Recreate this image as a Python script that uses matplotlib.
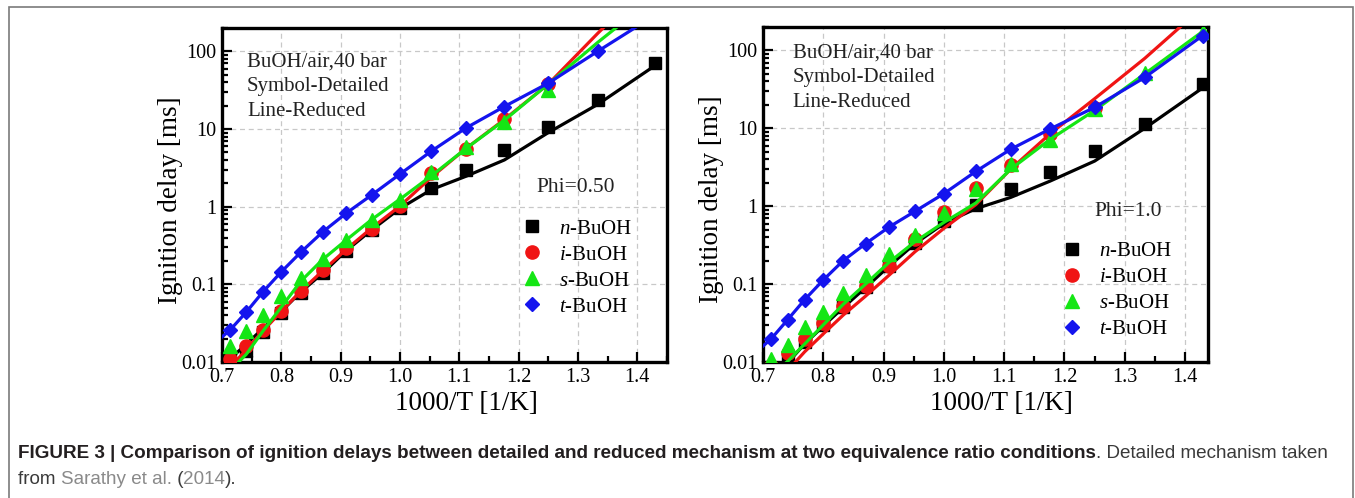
import matplotlib
matplotlib.use("Agg")
import matplotlib.pyplot as plt
from matplotlib.patches import Rectangle
from matplotlib.ticker import MultipleLocator, FixedLocator, FuncFormatter, LogLocator, NullFormatter

plt.rcParams['font.family'] = ['Liberation Serif', 'DejaVu Serif']
plt.rcParams['mathtext.fontset'] = 'custom'
plt.rcParams['mathtext.rm'] = 'Liberation Serif'
plt.rcParams['mathtext.it'] = 'Liberation Serif:italic'

# 1000/T of the detailed-mechanism points, T = 1400 ... 700 K
inv_t = [0.714, 0.741, 0.769, 0.800, 0.833, 0.870, 0.909, 0.952,
         1.000, 1.053, 1.111, 1.176, 1.250, 1.333, 1.429]
# x of the reduced-mechanism curves (one extra point at the left edge)
line_x = [0.700] + inv_t

# ---- Phi = 0.50 ----
p05_n_sym = [0.011, 0.014, 0.024, 0.043, 0.077, 0.14, 0.27, 0.50, 0.95, 1.75, 3.0, 5.4, 10.5, 24, 71]
p05_i_sym = [0.011, 0.016, 0.026, 0.046, 0.083, 0.155, 0.29, 0.52, 1.02, 2.7, 5.6, 13.5, 38]
p05_s_sym = [0.016, 0.025, 0.040, 0.070, 0.12, 0.21, 0.37, 0.68, 1.22, 2.8, 5.9, 12.5, 32]
p05_t_sym = [0.026, 0.044, 0.080, 0.145, 0.26, 0.475, 0.82, 1.41, 2.63, 5.2, 10.3, 19.5, 39, 100]

p05_n_line = [0.0095, 0.011, 0.017, 0.027, 0.045, 0.08, 0.14, 0.27, 0.50, 0.95, 1.66, 2.46, 4.0, 9.0, 20.7, 65]
p05_i_line = [0.0065, 0.0085, 0.0145, 0.025, 0.045, 0.082, 0.15, 0.28, 0.53, 1.02, 2.4, 5.6, 13.3, 38, 170, 900]
p05_s_line = [0.006, 0.0078, 0.0126, 0.025, 0.051, 0.11, 0.21, 0.37, 0.68, 1.25, 2.5, 5.6, 13, 38, 130, 500]
p05_t_line = [0.021, 0.026, 0.044, 0.080, 0.145, 0.26, 0.475, 0.82, 1.41, 2.63, 5.2, 10.3, 19.5, 39, 100, 290]

# ---- Phi = 1.0 ----
p10_n_sym = [0.008, 0.0116, 0.018, 0.030, 0.051, 0.093, 0.17, 0.34, 0.64, 1.05, 1.64, 2.75, 5.1, 11.5, 37]
p10_i_sym = [0.009, 0.013, 0.020, 0.032, 0.052, 0.095, 0.17, 0.38, 0.85, 1.7, 3.4, 8.5, 18.5]
p10_s_sym = [0.011, 0.0166, 0.028, 0.044, 0.076, 0.13, 0.245, 0.43, 0.82, 1.64, 3.45, 7.0, 17.7, 52, 170]
p10_t_sym = [0.020, 0.035, 0.063, 0.113, 0.20, 0.33, 0.54, 0.86, 1.45, 2.8, 5.4, 9.8, 18.6, 45, 155]

p10_n_line = [0.005, 0.0065, 0.0098, 0.017, 0.029, 0.05, 0.09, 0.17, 0.33, 0.60, 0.93, 1.3, 2.1, 3.8, 10, 33]
p10_i_line = [0.004, 0.0052, 0.0078, 0.0135, 0.023, 0.04, 0.07, 0.13, 0.26, 0.52, 1.05, 3.0, 8.5, 24, 79, 360]
p10_s_line = [0.005, 0.0068, 0.0102, 0.017, 0.030, 0.055, 0.10, 0.19, 0.35, 0.62, 1.1, 3.0, 7.2, 17, 50, 175]
p10_t_line = [0.016, 0.020, 0.035, 0.063, 0.113, 0.20, 0.33, 0.54, 0.86, 1.45, 2.8, 5.4, 9.8, 18.6, 45, 155]

labels = [r'$n$-BuOH', r'$i$-BuOH', r'$s$-BuOH', r'$t$-BuOH']
colors = ['#000000', '#f01414', '#14e614', '#1414ee']
markers = ['s', 'o', '^', 'D']
msizes = [8.5, 9.5, 10, 7.6]

y_ticks = [0.01, 0.1, 1, 10, 100]
x_ticks = [0.7, 0.8, 0.9, 1.0, 1.1, 1.2, 1.3, 1.4]

W, H = 1355, 498
fig = plt.figure(figsize=(W / 100, H / 100), dpi=100)


def draw_panel(rect, xmax, syms, lines, phi_text, phi_pos, leg_anchor, note_pos):
    ax = fig.add_axes(rect)
    for k in range(4):
        n = len(syms[k])
        ax.plot(inv_t[:n], syms[k], linestyle='none', marker=markers[k],
                ms=msizes[k], color=colors[k], label=labels[k], zorder=3 + k)
    for k in range(4):
        ax.plot(line_x, lines[k], '-', color=colors[k], lw=2.3, zorder=3 + k)

    ax.set_yscale('log')
    ax.set_xlim(0.7, xmax)
    ax.set_ylim(0.01, 200)
    ax.xaxis.set_major_locator(FixedLocator(x_ticks))
    ax.xaxis.set_minor_locator(MultipleLocator(0.05))
    ax.xaxis.set_major_formatter(FuncFormatter(lambda v, p: '%.1f' % v))
    ax.yaxis.set_major_locator(FixedLocator(y_ticks))
    ax.yaxis.set_minor_locator(LogLocator(base=10, subs=range(2, 10)))
    ax.yaxis.set_major_formatter(FuncFormatter(lambda v, p: '%g' % v))
    ax.yaxis.set_minor_formatter(NullFormatter())
    ax.tick_params(which='both', direction='in', top=False, right=False,
                   labelsize=14.5, width=1.6)
    ax.tick_params(which='major', length=7)
    ax.tick_params(which='minor', length=4)
    ax.tick_params(axis='x', which='major', pad=4)
    ax.tick_params(axis='y', which='major', pad=4)
    ax.grid(True, which='major', linestyle=(0, (4, 3)), color='#c8c8c8', lw=0.9)
    for s in ax.spines.values():
        s.set_linewidth(2.4)

    ax.set_ylabel('Ignition delay [ms]', fontsize=19.5)
    ax.yaxis.set_label_coords(-0.088, 0.485)
    ax.set_xlabel('1000/T [1/K]', fontsize=19.5)
    ax.xaxis.set_label_coords(phi_pos[2], -0.086)

    ax.text(note_pos[0], note_pos[1], 'BuOH/air,40 bar\nSymbol-Detailed\nLine-Reduced',
            transform=ax.transAxes, fontsize=15, va='top', ha='left',
            linespacing=1.42, color='#222222')
    ax.text(phi_pos[0], phi_pos[1], phi_text, transform=ax.transAxes,
            fontsize=15.5, va='center', ha='left', color='#222222')
    ax.legend(loc='upper left', bbox_to_anchor=leg_anchor, frameon=False,
              fontsize=15, handlelength=1.0, handletextpad=0.8,
              labelspacing=0.31, borderpad=0, borderaxespad=0)
    return ax


ax1 = draw_panel([222 / W, 1 - 362 / H, 445 / W, 334 / H], 1.45,
                 [p05_n_sym, p05_i_sym, p05_s_sym, p05_t_sym],
                 [p05_n_line, p05_i_line, p05_s_line, p05_t_line],
                 'Phi=0.50', (0.706, 0.521, 0.55), (0.673, 0.428), (0.056, 0.928))
ax2 = draw_panel([763 / W, 1 - 362 / H, 445 / W, 335 / H], 1.438,
                 [p10_n_sym, p10_i_sym, p10_s_sym, p10_t_sym],
                 [p10_n_line, p10_i_line, p10_s_line, p10_t_line],
                 'Phi=1.0', (0.744, 0.449, 0.535), (0.671, 0.359), (0.067, 0.952))

# outer frame of the figure panel
fig.add_artist(Rectangle((9 / W, -0.05), (1353 - 9) / W, 1.05 - 7 / H,
                         transform=fig.transFigure, fill=False,
                         edgecolor='#7a7a7a', lw=1.2))

# caption, written piece by piece
cap_font = ['Liberation Sans Narrow', 'Liberation Sans', 'DejaVu Sans']
dark, link = '#231f20', '#8a8a8a'
cap_size = 13.6
line1 = [('FIGURE 3 | Comparison of ignition delays between detailed and reduced '
          'mechanism at two equivalence ratio conditions', 'bold', dark),
         ('. Detailed mechanism taken', 'normal', '#3a3a3a')]
line2 = [('from ', 'normal', '#3a3a3a'), ('Sarathy et al.', 'normal', link),
         (' (', 'normal', '#3a3a3a'), ('2014', 'normal', link), (').', 'normal', '#3a3a3a')]


def caption_line(pieces, x0, y0):
    prev = None
    for txt, weight, col in pieces:
        if prev is None:
            prev = fig.text(x0, y0, txt, fontsize=cap_size, family=cap_font,
                            weight=weight, color=col, va='baseline', ha='left')
        else:
            prev = ax1.annotate(txt, xy=(1, y0), xycoords=(prev, 'figure fraction'),
                                fontsize=cap_size, family=cap_font, weight=weight,
                                color=col, va='baseline', ha='left',
                                annotation_clip=False)


caption_line(line1, 18 / W, 1 - 458 / H)
caption_line(line2, 18 / W, 1 - 484 / H)

fig.savefig('out.png', dpi=100)
